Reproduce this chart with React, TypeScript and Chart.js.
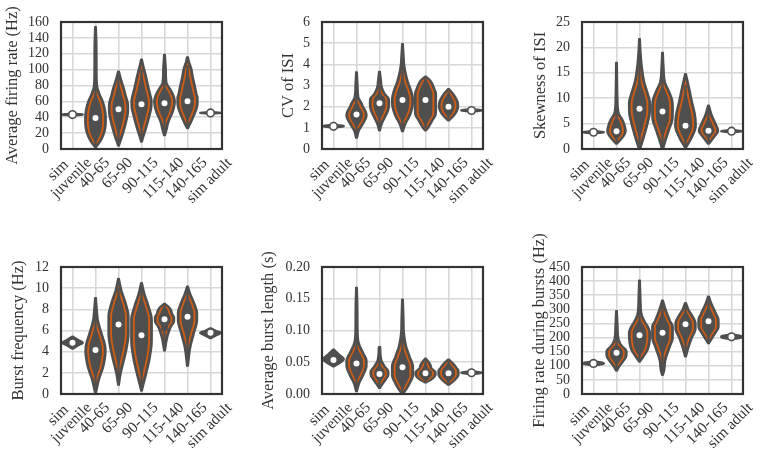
import React, { useEffect, useRef } from 'react';
import { Chart, registerables } from 'chart.js';

Chart.register(...registerables);

// ---------- categories ----------
const categoryNames = ['sim juvenile', '40-65', '65-90', '90-115', '115-140', '140-165', 'sim adult'];
const categoryLines = [['sim', 'juvenile'], ['40-65'], ['65-90'], ['90-115'], ['115-140'], ['140-165'], ['sim adult']];
const isSim = [true, false, false, false, false, false, true];

// ---------- Average firing rate (Hz) ----------
const rateMedian = [43.4, 39, 50, 56.4, 57.7, 60.2, 45.5];
const rateBox = [[42.9, 43.9], [26, 52], [38, 60], [45, 68], [48, 66], [51, 72], [45, 46]];
const rateWhisker = [[42.3, 44.5], [2, 92], [8, 90], [14, 100], [22, 95], [30, 105], [44.3, 46.7]];
const rateShape = [
  [[41.8, 0.02], [42.8, 0.42], [43.4, 0.46], [44, 0.42], [45, 0.02]],
  [[2, 0.03], [7, 0.16], [12.6, 0.28], [25, 0.43], [38, 0.46], [47, 0.44], [59, 0.34], [70, 0.18], [80, 0.08], [100, 0.06], [130, 0.055], [154, 0.03]],
  [[4, 0.03], [10, 0.1], [16.8, 0.18], [33.6, 0.34], [45, 0.42], [52, 0.43], [59, 0.41], [67, 0.33], [76, 0.25], [86, 0.14], [98, 0.03]],
  [[9, 0.03], [16, 0.1], [25, 0.2], [42, 0.36], [52, 0.44], [60, 0.45], [68, 0.4], [76, 0.33], [92.7, 0.2], [104, 0.1], [113, 0.03]],
  [[17, 0.03], [24, 0.1], [33.6, 0.18], [46, 0.36], [54, 0.44], [60, 0.46], [66, 0.42], [74, 0.29], [84, 0.1], [100, 0.07], [119, 0.03]],
  [[26, 0.03], [31.6, 0.13], [42, 0.29], [52, 0.42], [58, 0.45], [64, 0.45], [70, 0.4], [80, 0.33], [90, 0.25], [101, 0.18], [110, 0.08], [116, 0.03]],
  [[44, 0.02], [45, 0.42], [45.5, 0.46], [46, 0.42], [47, 0.02]],
];

// ---------- CV of ISI ----------
const cvMedian = [1.07, 1.63, 2.16, 2.32, 2.32, 2.0, 1.82];
const cvBox = [[1.04, 1.1], [1.4, 1.85], [1.85, 2.4], [1.9, 2.8], [1.75, 2.65], [1.85, 2.2], [1.79, 1.85]];
const cvWhisker = [[1.02, 1.12], [0.8, 2.5], [1.1, 3.0], [1.0, 3.9], [1.0, 3.35], [1.45, 2.7], [1.77, 1.87]];
const cvShape = [
  [[1.0, 0.02], [1.05, 0.42], [1.08, 0.46], [1.11, 0.42], [1.16, 0.02]],
  [[0.52, 0.03], [0.87, 0.12], [1.18, 0.29], [1.45, 0.42], [1.6, 0.45], [1.75, 0.42], [2.0, 0.3], [2.13, 0.25], [2.45, 0.1], [3.0, 0.06], [3.63, 0.03]],
  [[0.87, 0.03], [1.18, 0.11], [1.5, 0.25], [1.8, 0.38], [2.1, 0.43], [2.35, 0.42], [2.6, 0.25], [2.92, 0.12], [3.3, 0.07], [3.66, 0.03]],
  [[0.83, 0.03], [1.18, 0.14], [1.58, 0.33], [2.0, 0.45], [2.3, 0.47], [2.6, 0.43], [3.24, 0.23], [3.87, 0.1], [4.4, 0.06], [4.97, 0.03]],
  [[0.87, 0.03], [1.02, 0.14], [1.34, 0.31], [1.65, 0.46], [2.0, 0.47], [2.6, 0.47], [2.84, 0.4], [3.24, 0.22], [3.43, 0.03]],
  [[1.34, 0.03], [1.58, 0.25], [1.85, 0.4], [2.05, 0.43], [2.25, 0.4], [2.6, 0.22], [2.84, 0.03]],
  [[1.75, 0.02], [1.8, 0.42], [1.82, 0.46], [1.85, 0.42], [1.9, 0.02]],
];

// ---------- Skewness of ISI ----------
const skewMedian = [3.3, 3.5, 7.9, 7.4, 4.6, 3.6, 3.5];
const skewBox = [[3.2, 3.4], [2.7, 4.6], [5.5, 11], [5, 10.2], [3, 7.5], [2.9, 4.6], [3.4, 3.6]];
const skewWhisker = [[3.1, 3.5], [1.2, 7.5], [0.5, 17], [0.5, 15], [0.5, 12.5], [1.3, 7.5], [3.3, 3.7]];
const skewShape = [
  [[3.0, 0.02], [3.2, 0.42], [3.3, 0.46], [3.4, 0.42], [3.6, 0.02]],
  [[1.0, 0.03], [2.0, 0.23], [3.0, 0.38], [3.6, 0.41], [4.4, 0.38], [5.6, 0.29], [7.2, 0.1], [10, 0.055], [17, 0.03]],
  [[0, 0.04], [2.6, 0.22], [5.3, 0.38], [7, 0.46], [9, 0.47], [10.5, 0.4], [13.2, 0.22], [16.4, 0.11], [19, 0.06], [21.7, 0.03]],
  [[0, 0.04], [1.6, 0.14], [3.9, 0.31], [6, 0.45], [8, 0.46], [9.5, 0.44], [11.2, 0.31], [13.2, 0.12], [16, 0.06], [19, 0.03]],
  [[0.3, 0.04], [2.3, 0.29], [4.6, 0.46], [6.6, 0.43], [9.2, 0.3], [11.8, 0.18], [14.8, 0.03]],
  [[1, 0.03], [2.3, 0.25], [3.6, 0.43], [4.9, 0.33], [6.6, 0.16], [8.6, 0.03]],
  [[3.2, 0.02], [3.4, 0.42], [3.5, 0.46], [3.6, 0.42], [3.8, 0.02]],
];

// ---------- Burst frequency (Hz) ----------
const burstMedian = [4.84, 4.15, 6.57, 5.56, 7.07, 7.29, 5.78];
const burstBox = [[4.7, 5.0], [3.0, 5.0], [5.0, 7.8], [3.8, 7.2], [6.0, 7.5], [6.0, 8.3], [5.65, 5.9]];
const burstWhisker = [[4.4, 5.3], [0.5, 7.5], [1.5, 10], [0.8, 10], [4.3, 8.4], [3.5, 9.9], [5.35, 6.15]];
const burstShape = [
  [[4.25, 0.02], [4.55, 0.24], [4.84, 0.46], [5.15, 0.24], [5.45, 0.02]],
  [[0.05, 0.03], [1.32, 0.16], [2.57, 0.35], [3.5, 0.43], [4.0, 0.45], [4.6, 0.43], [5.72, 0.28], [6.97, 0.12], [8, 0.07], [9.1, 0.03]],
  [[0.85, 0.03], [1.95, 0.11], [3.2, 0.25], [4.46, 0.38], [5.7, 0.45], [7.3, 0.45], [8.55, 0.33], [9.8, 0.14], [10.9, 0.03]],
  [[0.3, 0.03], [0.85, 0.09], [1.95, 0.22], [3.52, 0.38], [5.1, 0.46], [7.0, 0.46], [8.23, 0.33], [9.49, 0.14], [10.5, 0.03]],
  [[4.08, 0.03], [5.4, 0.14], [6.34, 0.29], [6.9, 0.43], [7.2, 0.43], [7.6, 0.35], [8.08, 0.26], [8.55, 0.03]],
  [[2.64, 0.03], [4.46, 0.14], [5.72, 0.29], [7.0, 0.43], [7.6, 0.43], [8.55, 0.31], [9.49, 0.13], [10.18, 0.03]],
  [[5.24, 0.02], [5.5, 0.24], [5.78, 0.46], [6.0, 0.24], [6.24, 0.02]],
];

// ---------- Average burst length (s) ----------
const lengthMedian = [0.0534, 0.048, 0.0314, 0.042, 0.0325, 0.0325, 0.0335];
const lengthBox = [[0.051, 0.057], [0.036, 0.058], [0.025, 0.04], [0.028, 0.058], [0.027, 0.038], [0.026, 0.039], [0.033, 0.034]];
const lengthWhisker = [[0.046, 0.064], [0.01, 0.09], [0.012, 0.06], [0.003, 0.1], [0.019, 0.052], [0.016, 0.052], [0.032, 0.035]];
const lengthShape = [
  [[0.043, 0.02], [0.049, 0.3], [0.055, 0.46], [0.0625, 0.25], [0.0702, 0.03]],
  [[0.004, 0.03], [0.0168, 0.13], [0.03, 0.31], [0.045, 0.45], [0.052, 0.45], [0.0665, 0.28], [0.0796, 0.12], [0.1, 0.06], [0.13, 0.055], [0.1676, 0.03]],
  [[0.009, 0.03], [0.0147, 0.13], [0.022, 0.27], [0.031, 0.4], [0.035, 0.4], [0.0443, 0.23], [0.0534, 0.1], [0.0743, 0.04]],
  [[0, 0.03], [0.0063, 0.16], [0.0168, 0.33], [0.03, 0.47], [0.043, 0.47], [0.0586, 0.33], [0.0743, 0.18], [0.095, 0.08], [0.12, 0.055], [0.149, 0.03]],
  [[0.0178, 0.03], [0.023, 0.28], [0.031, 0.45], [0.034, 0.45], [0.04, 0.3], [0.048, 0.2], [0.0561, 0.03]],
  [[0.0141, 0.03], [0.022, 0.29], [0.031, 0.45], [0.036, 0.45], [0.042, 0.35], [0.048, 0.22], [0.0545, 0.03]],
  [[0.0305, 0.02], [0.0325, 0.4], [0.0335, 0.46], [0.0345, 0.4], [0.0365, 0.02]],
];

// ---------- Firing rate during bursts (Hz) ----------
const intraMedian = [108.5, 146, 208.6, 216.8, 247.4, 258, 202.6];
const intraBox = [[105, 112], [125, 165], [175, 240], [180, 250], [210, 265], [235, 280], [199, 206]];
const intraWhisker = [[101, 116], [88, 230], [120, 320], [80, 320], [140, 315], [185, 335], [194, 211]];
const intraShape = [
  [[100, 0.02], [105, 0.4], [108.5, 0.46], [112, 0.4], [117, 0.02]],
  [[82, 0.03], [96.5, 0.13], [114, 0.29], [134, 0.44], [146, 0.45], [155, 0.43], [173, 0.23], [197, 0.1], [240, 0.06], [294.5, 0.03]],
  [[114, 0.03], [132, 0.18], [155.5, 0.36], [191, 0.46], [215, 0.47], [235, 0.4], [255.6, 0.25], [285, 0.1], [340, 0.055], [403, 0.03]],
  [[67, 0.03], [85, 0.09], [120, 0.14], [167, 0.33], [200, 0.46], [238, 0.46], [261.6, 0.33], [297, 0.16], [332, 0.03]],
  [[132, 0.03], [161.5, 0.13], [197, 0.28], [232, 0.45], [250, 0.45], [273, 0.34], [297, 0.16], [322.8, 0.03]],
  [[179, 0.03], [191, 0.12], [214.6, 0.3], [238, 0.45], [262, 0.45], [285, 0.34], [320.6, 0.14], [346.4, 0.03]],
  [[193, 0.02], [198, 0.4], [202.6, 0.46], [207, 0.4], [212, 0.02]],
];

// ---------- axes ----------
const yTitles = ['Average firing rate (Hz)', 'CV of ISI', 'Skewness of ISI', 'Burst frequency (Hz)', 'Average burst length (s)', 'Firing rate during bursts (Hz)'];
const yMaxes = [160, 6, 25, 12, 0.2, 450];
const ySteps = [20, 1, 5, 2, 0.05, 50];
const yDecimals = [0, 0, 0, 0, 2, 0];

const medians = [rateMedian, cvMedian, skewMedian, burstMedian, lengthMedian, intraMedian];
const boxes = [rateBox, cvBox, skewBox, burstBox, lengthBox, intraBox];
const whiskers = [rateWhisker, cvWhisker, skewWhisker, burstWhisker, lengthWhisker, intraWhisker];
const shapes = [rateShape, cvShape, skewShape, burstShape, lengthShape, intraShape];

// ---------- layout / style ----------
const COL_LEFT = [61, 322, 582];
const ROW_TOP = [22, 267];
const AREA_W = 161;
const AREA_H = 127;
const Y_AXIS_W = 75;
const RIGHT_PAD = 15;
const ROW_CANVAS_TOP = [0, 229];
const CANVAS_H = 229;
const TITLE_CENTER = [27, 41.7, 34, 33, 22, 33];

const GRAY = '#4f4f4f';
const ORANGE = '#cc5c16';
const GRID = '#d8d8d8';
const FRAME = '#333333';
const TEXT = '#333333';
const FONT = '"Liberation Serif", "Times New Roman", serif';
const TICK_SIZE = 14;
const XLABEL_SIZE = 15.5;
const TITLE_SIZE = 16.5;

function sampleProfile(knots: number[][], n: number): number[][] {
  const xs = knots.map((k) => k[0]);
  const ys = knots.map((k) => k[1]);
  const m = xs.length;
  const s: number[] = [];
  for (let i = 0; i < m - 1; i++) s.push((ys[i + 1] - ys[i]) / (xs[i + 1] - xs[i]));
  const d: number[] = new Array(m).fill(0);
  d[0] = s[0];
  d[m - 1] = s[m - 2];
  for (let i = 1; i < m - 1; i++) d[i] = s[i - 1] * s[i] <= 0 ? 0 : (s[i - 1] + s[i]) / 2;
  for (let i = 0; i < m - 1; i++) {
    if (s[i] === 0) { d[i] = 0; d[i + 1] = 0; continue; }
    const a = d[i] / s[i];
    const b = d[i + 1] / s[i];
    const h = a * a + b * b;
    if (h > 9) { const t = 3 / Math.sqrt(h); d[i] = t * a * s[i]; d[i + 1] = t * b * s[i]; }
  }
  const out: number[][] = [];
  for (let j = 0; j <= n; j++) {
    const v = xs[0] + ((xs[m - 1] - xs[0]) * j) / n;
    let i = 0;
    while (i < m - 2 && v > xs[i + 1]) i++;
    const hh = xs[i + 1] - xs[i];
    const t = (v - xs[i]) / hh;
    const t2 = t * t;
    const t3 = t2 * t;
    const w = (2 * t3 - 3 * t2 + 1) * ys[i] + (t3 - 2 * t2 + t) * hh * d[i] + (-2 * t3 + 3 * t2) * ys[i + 1] + (t3 - t2) * hh * d[i + 1];
    out.push([v, Math.max(0, w)]);
  }
  return out;
}

function drawLayer(ctx: CanvasRenderingContext2D, cx: number, pts: { py: number; hw: number }[], f: (hw: number) => number, color: string, stroke: boolean) {
  ctx.beginPath();
  pts.forEach((p, j) => {
    const x = cx + f(p.hw);
    if (j === 0) ctx.moveTo(x, p.py); else ctx.lineTo(x, p.py);
  });
  for (let j = pts.length - 1; j >= 0; j--) ctx.lineTo(cx - f(pts[j].hw), pts[j].py);
  ctx.closePath();
  ctx.fillStyle = color;
  ctx.fill();
  if (stroke) {
    ctx.strokeStyle = color;
    ctx.lineWidth = 1.6;
    ctx.lineJoin = 'round';
    ctx.stroke();
  }
}

function makeViolinPlugin(shape: number[][][]) {
  return {
    id: 'violins',
    beforeDatasetsDraw(chart: any) {
      const { ctx } = chart;
      const x = chart.scales.x;
      const y = chart.scales.y;
      const cat = x.getPixelForValue(1) - x.getPixelForValue(0);
      ctx.save();
      shape.forEach((knots, i) => {
        const cx = x.getPixelForValue(i);
        const pts = sampleProfile(knots, 90).map((p) => ({ py: y.getPixelForValue(p[0]), hw: p[1] * cat }));
        drawLayer(ctx, cx, pts, (hw) => hw, GRAY, true);
        if (!isSim[i]) {
          drawLayer(ctx, cx, pts, (hw) => Math.max(0, hw - 2.0), ORANGE, false);
          drawLayer(ctx, cx, pts, (hw) => Math.max(0, hw - 3.9), GRAY, false);
        }
      });
      ctx.restore();
    },
  };
}

const framePlugin = {
  id: 'frame',
  afterDatasetsDraw(chart: any) {
    const { ctx, chartArea } = chart;
    ctx.save();
    ctx.strokeStyle = FRAME;
    ctx.lineWidth = 2.2;
    ctx.strokeRect(chartArea.left, chartArea.top, chartArea.right - chartArea.left, chartArea.bottom - chartArea.top);
    ctx.restore();
  },
};

const xLabelPlugin = {
  id: 'xlabels',
  afterDraw(chart: any) {
    const { ctx, chartArea } = chart;
    const x = chart.scales.x;
    ctx.save();
    ctx.font = `${XLABEL_SIZE}px ${FONT}`;
    ctx.fillStyle = TEXT;
    ctx.textAlign = 'center';
    ctx.textBaseline = 'middle';
    const lh = XLABEL_SIZE * 0.95;
    categoryLines.forEach((lines, i) => {
      const last = lines[lines.length - 1];
      const w = ctx.measureText(last).width;
      const side = (w + XLABEL_SIZE) * Math.SQRT1_2;
      const tx = x.getPixelForValue(i) - 1;
      const cy = chartArea.bottom + 6 + side / 2;
      ctx.save();
      ctx.translate(tx, cy);
      ctx.rotate(-Math.PI / 4);
      lines.forEach((l, k) => {
        const up = lines.length - 1 - k;
        ctx.fillText(l, up > 0 ? -4 : 0, -up * lh);
      });
      ctx.restore();
    });
    ctx.restore();
  },
};

function Panel({ idx }: { idx: number }) {
  const ref = useRef<HTMLCanvasElement>(null);
  const col = idx % 3;
  const row = Math.floor(idx / 3);
  const canvasLeft = COL_LEFT[col] - Y_AXIS_W;
  const canvasTop = ROW_CANVAS_TOP[row];
  const canvasW = Y_AXIS_W + AREA_W + RIGHT_PAD;
  const padTop = ROW_TOP[row] - canvasTop;
  const xAxisH = CANVAS_H - padTop - AREA_H;

  useEffect(() => {
    const chart = new Chart(ref.current as HTMLCanvasElement, {
      type: 'bar',
      data: {
        labels: categoryNames,
        datasets: [
          {
            type: 'line',
            data: medians[idx],
            showLine: false,
            pointRadius: 3.8,
            pointHoverRadius: 3.8,
            pointBackgroundColor: '#ffffff',
            pointBorderColor: GRAY,
            pointBorderWidth: 1.6,
            order: 0,
          } as any,
          {
            type: 'bar',
            data: boxes[idx] as any,
            backgroundColor: GRAY,
            barThickness: 6,
            grouped: false,
            order: 1,
          } as any,
          {
            type: 'bar',
            data: whiskers[idx] as any,
            backgroundColor: GRAY,
            barThickness: 1.6,
            grouped: false,
            order: 2,
          } as any,
        ],
      },
      options: {
        animation: false,
        responsive: false,
        devicePixelRatio: 1,
        events: [],
        layout: { padding: { left: 0, top: padTop, right: RIGHT_PAD, bottom: 0 } },
        plugins: { legend: { display: false }, tooltip: { enabled: false } },
        scales: {
          x: {
            offset: true,
            grid: { offset: false, color: GRID, lineWidth: 1.6, drawTicks: false },
            border: { display: false },
            ticks: { display: false },
            afterFit: (s: any) => { s.height = xAxisH; },
          } as any,
          y: {
            min: 0,
            max: yMaxes[idx],
            ticks: {
              stepSize: ySteps[idx],
              autoSkip: false,
              padding: 12,
              color: TEXT,
              font: { family: FONT, size: TICK_SIZE },
              callback: (v: any) => Number(v).toFixed(yDecimals[idx]),
            },
            grid: { color: GRID, lineWidth: 1.6, drawTicks: false },
            border: { display: false },
            title: {
              display: true,
              text: yTitles[idx],
              color: TEXT,
              font: { family: FONT, size: TITLE_SIZE },
              padding: { top: TITLE_CENTER[idx] - (TITLE_SIZE * 1.2) / 2, bottom: 0 },
            },
            afterFit: (s: any) => { s.width = Y_AXIS_W; },
          } as any,
        },
      },
      plugins: [makeViolinPlugin(shapes[idx]), framePlugin, xLabelPlugin],
    });
    return () => chart.destroy();
  }, [idx]);

  return (
    <canvas
      ref={ref}
      width={canvasW}
      height={CANVAS_H}
      style={{ position: 'absolute', left: canvasLeft, top: canvasTop, width: canvasW, height: CANVAS_H }}
    />
  );
}

export default function App() {
  return (
    <div style={{ position: 'absolute', left: 0, top: 0, width: 764, height: 458, overflow: 'hidden', background: '#ffffff' }}>
      {[0, 1, 2, 3, 4, 5].map((i) => (
        <Panel key={i} idx={i} />
      ))}
    </div>
  );
}
